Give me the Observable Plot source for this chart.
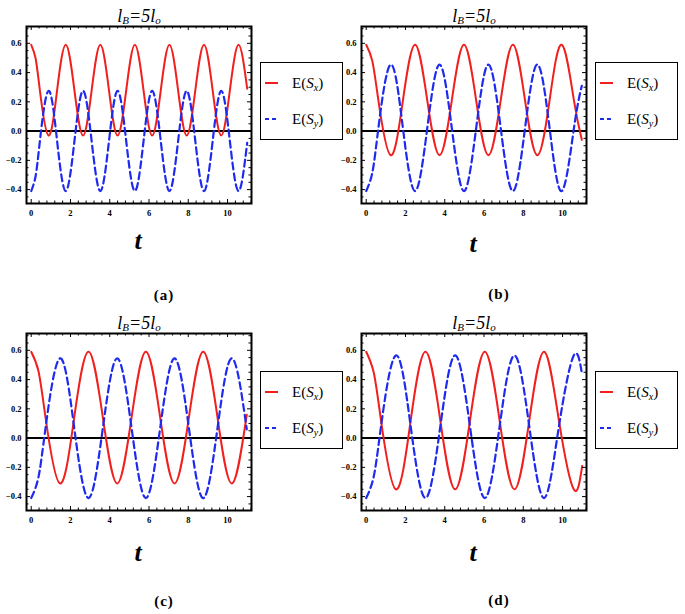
<!DOCTYPE html>
<html><head><meta charset="utf-8">
<script src="https://cdn.jsdelivr.net/npm/d3@7"></script>
<script src="https://cdn.jsdelivr.net/npm/@observablehq/plot@0.6"></script>
<style>
body{margin:0;background:#fff;}
#root{position:relative;width:685px;height:614px;overflow:hidden;background:#fff;font-family:"Liberation Serif","Times New Roman",serif;color:#000;}
.abs{position:absolute;}
.title{font-size:18px;font-style:italic;white-space:nowrap;transform:translate(-50%,-50%);line-height:1;}
.title sub{font-size:11px;position:relative;top:2px;vertical-align:baseline;}
.tlab{font-size:26px;font-style:italic;font-weight:bold;transform:translate(-50%,-50%);line-height:1;}
.cap{font-size:15px;font-weight:bold;transform:translate(-50%,-50%);line-height:1;letter-spacing:1px;white-space:nowrap;}
.legend{width:83px;height:78px;border:1.5px solid #000;box-sizing:border-box;background:#fff;}
.row{position:absolute;left:0;width:80px;height:20px;}
.row svg{position:absolute;left:3px;top:7px;}
.row span{position:absolute;left:31px;top:1px;font-size:15px;white-space:nowrap;line-height:18px;}
.row sub{font-size:10px;position:relative;top:3px;vertical-align:baseline;}
</style></head>
<body><div id="root"></div>
<script>
// ---- data ----
const panelLabels = ["(a)", "(b)", "(c)", "(d)"];
const seriesNames = ["Sx", "Sy"];
const xMajor = [0, 2, 4, 6, 8, 10];
const yMajor = [-0.4, -0.2, 0.0, 0.2, 0.4, 0.6];
const zeroLine = [0];

const tA  = [0, 0.22, 0.44, 0.88, 1.32, 1.76, 2.2, 2.64, 3.08, 3.52, 3.96, 4.4, 4.84, 5.28, 5.72, 6.16, 6.6, 7.04, 7.48, 7.92, 8.36, 8.8, 9.24, 9.68, 10.12, 10.56, 11.0];
const sxA = [0.59, 0.50, 0.28, -0.03, 0.28, 0.59, 0.28, -0.03, 0.28, 0.59, 0.28, -0.03, 0.28, 0.59, 0.28, -0.03, 0.28, 0.59, 0.28, -0.03, 0.28, 0.59, 0.28, -0.03, 0.28, 0.59, 0.29];
const syA = [-0.41, -0.31, -0.07, 0.275, -0.07, -0.41, -0.07, 0.275, -0.07, -0.41, -0.07, 0.275, -0.07, -0.41, -0.07, 0.275, -0.07, -0.41, -0.07, 0.275, -0.07, -0.41, -0.07, 0.275, -0.07, -0.41, -0.08];

const tB  = [0, 0.31, 0.62, 1.245, 1.87, 2.49, 3.11, 3.735, 4.36, 4.98, 5.6, 6.225, 6.85, 7.47, 8.09, 8.715, 9.34, 9.96, 10.58, 10.98];
const sxB = [0.59, 0.48, 0.21, -0.165, 0.21, 0.59, 0.21, -0.165, 0.21, 0.59, 0.21, -0.165, 0.21, 0.59, 0.21, -0.165, 0.21, 0.59, 0.21, -0.06];
const syB = [-0.41, -0.285, 0.02, 0.455, 0.02, -0.41, 0.02, 0.455, 0.02, -0.41, 0.02, 0.455, 0.02, -0.41, 0.02, 0.455, 0.02, -0.41, 0.02, 0.31];

const tC  = [0, 0.365, 0.73, 1.46, 2.19, 2.92, 3.65, 4.38, 5.11, 5.84, 6.57, 7.30, 8.03, 8.76, 9.49, 10.22, 10.98];
const sxC = [0.59, 0.46, 0.14, -0.31, 0.14, 0.59, 0.14, -0.31, 0.14, 0.59, 0.14, -0.31, 0.14, 0.59, 0.14, -0.31, 0.16];
const syC = [-0.41, -0.27, 0.07, 0.545, 0.07, -0.41, 0.07, 0.545, 0.07, -0.41, 0.07, 0.545, 0.07, -0.41, 0.07, 0.545, 0.06];

const tD  = [0, 0.38, 0.755, 1.51, 2.265, 3.02, 3.775, 4.53, 5.285, 6.04, 6.795, 7.55, 8.305, 9.06, 9.815, 10.57, 11.0];
const sxD = [0.59, 0.45, 0.12, -0.35, 0.12, 0.59, 0.12, -0.35, 0.12, 0.59, 0.12, -0.35, 0.12, 0.59, 0.12, -0.35, -0.19];
const syD = [-0.41, -0.265, 0.08, 0.565, 0.08, -0.41, 0.08, 0.565, 0.08, -0.41, 0.08, 0.565, 0.08, -0.41, 0.08, 0.565, 0.43];

// ---- styling / layout ----
const RED = "#f0201e", BLUE = "#1e2aee";
const xDomain = [-0.24, 11.22], yDomain = [-0.495, 0.715];
const W = 256, H = 223, ML = 26, MR = 5, MT = 26, MB = 20;
const FW = W - ML - MR, FH = H - MT - MB;
const xMinor = d3.range(0, 11.3, 0.4).map(v => +v.toFixed(2)).filter(v => Math.abs(v / 2 - Math.round(v / 2)) > 1e-6 && v <= xDomain[1]);
const yMinor = d3.range(-0.45, 0.72, 0.05).map(v => +v.toFixed(2)).filter(v => Math.abs(v / 0.2 - Math.round(v / 0.2)) > 1e-6);

const panels = [
  {t: tA, sx: sxA, sy: syA, left: 0,   top: 0,   title: [139, 16], tl: [138, 241], cap: [164, 295], legend: [260, 62]},
  {t: tB, sx: sxB, sy: syB, left: 335, top: 0,   title: [474, 16], tl: [473, 244], cap: [499, 294], legend: [595, 62]},
  {t: tC, sx: sxC, sy: syC, left: 0,   top: 307, title: [139, 323], tl: [138, 553], cap: [164, 601], legend: [260, 371]},
  {t: tD, sx: sxD, sy: syD, left: 335, top: 307, title: [474, 323], tl: [473, 553], cap: [499, 600], legend: [595, 371]}
];

function ticks(values, axis, major) {
  const len = major ? 4 : 2.5;
  const o = {stroke: "black", strokeWidth: 1};
  if (axis === "x") return [
    Plot.tickX(values, {...o, x: d => d, insetTop: FH - len}),
    Plot.tickX(values, {...o, x: d => d, insetBottom: FH - len})
  ];
  return [
    Plot.tickY(values, {...o, y: d => d, insetRight: FW - len}),
    Plot.tickY(values, {...o, y: d => d, insetLeft: FW - len})
  ];
}

function makePlot(p) {
  const rows = p.t.map((t, i) => ({t, sx: p.sx[i], sy: p.sy[i]}));
  return Plot.plot({
    width: W, height: H,
    marginLeft: ML, marginRight: MR, marginTop: MT, marginBottom: MB,
    x: {domain: xDomain}, y: {domain: yDomain},
    style: {background: "transparent", fontFamily: "'Liberation Serif', serif", fontSize: "8.5px", fontWeight: "bold", color: "black", overflow: "visible"},
    marks: [
      Plot.ruleY(zeroLine, {stroke: "black", strokeWidth: 2}),
      Plot.line(rows, {x: "t", y: "sx", stroke: RED, strokeWidth: 2, curve: "natural"}),
      Plot.line(rows, {x: "t", y: "sy", stroke: BLUE, strokeWidth: 2.2, strokeDasharray: "7,4", curve: "natural"}),
      ...ticks(xMajor, "x", true), ...ticks(xMinor, "x", false),
      ...ticks(yMajor, "y", true), ...ticks(yMinor, "y", false),
      Plot.axisX(xMajor, {tickSize: 0, tickPadding: 6, tickFormat: d => String(d), label: null}),
      Plot.axisY(yMajor, {tickSize: 0, tickPadding: 5, tickFormat: d3.format(".1f"), label: null}),
      Plot.frame({stroke: "black", strokeWidth: 2})
    ]
  });
}

const root = document.getElementById("root");
function addDiv(cls, x, y, html) {
  const d = document.createElement("div");
  d.className = "abs " + cls;
  d.style.left = x + "px"; d.style.top = y + "px";
  d.innerHTML = html;
  root.appendChild(d);
  return d;
}

panels.forEach((p, i) => {
  const svg = makePlot(p);
  const wrap = addDiv("", p.left, p.top, "");
  wrap.appendChild(svg);
  addDiv("title", p.title[0], p.title[1], "l<sub>B</sub>=5l<sub>o</sub>");
  addDiv("tlab", p.tl[0], p.tl[1], "t");
  addDiv("cap", p.cap[0], p.cap[1], panelLabels[i]);
  const lg = addDiv("legend", p.legend[0], p.legend[1], "");
  lg.innerHTML =
    `<div class="row" style="top:10px"><svg width="16" height="6"><line x1="1" y1="3" x2="14" y2="3" stroke="${RED}" stroke-width="2"/></svg><span>E(<i>S</i><sub><i>x</i></sub>)</span></div>` +
    `<div class="row" style="top:46px"><svg width="16" height="6"><line x1="1" y1="3" x2="15" y2="3" stroke="${BLUE}" stroke-width="2.2" stroke-dasharray="4,3"/></svg><span>E(<i>S</i><sub><i>y</i></sub>)</span></div>`;
});
</script>
</body></html>
